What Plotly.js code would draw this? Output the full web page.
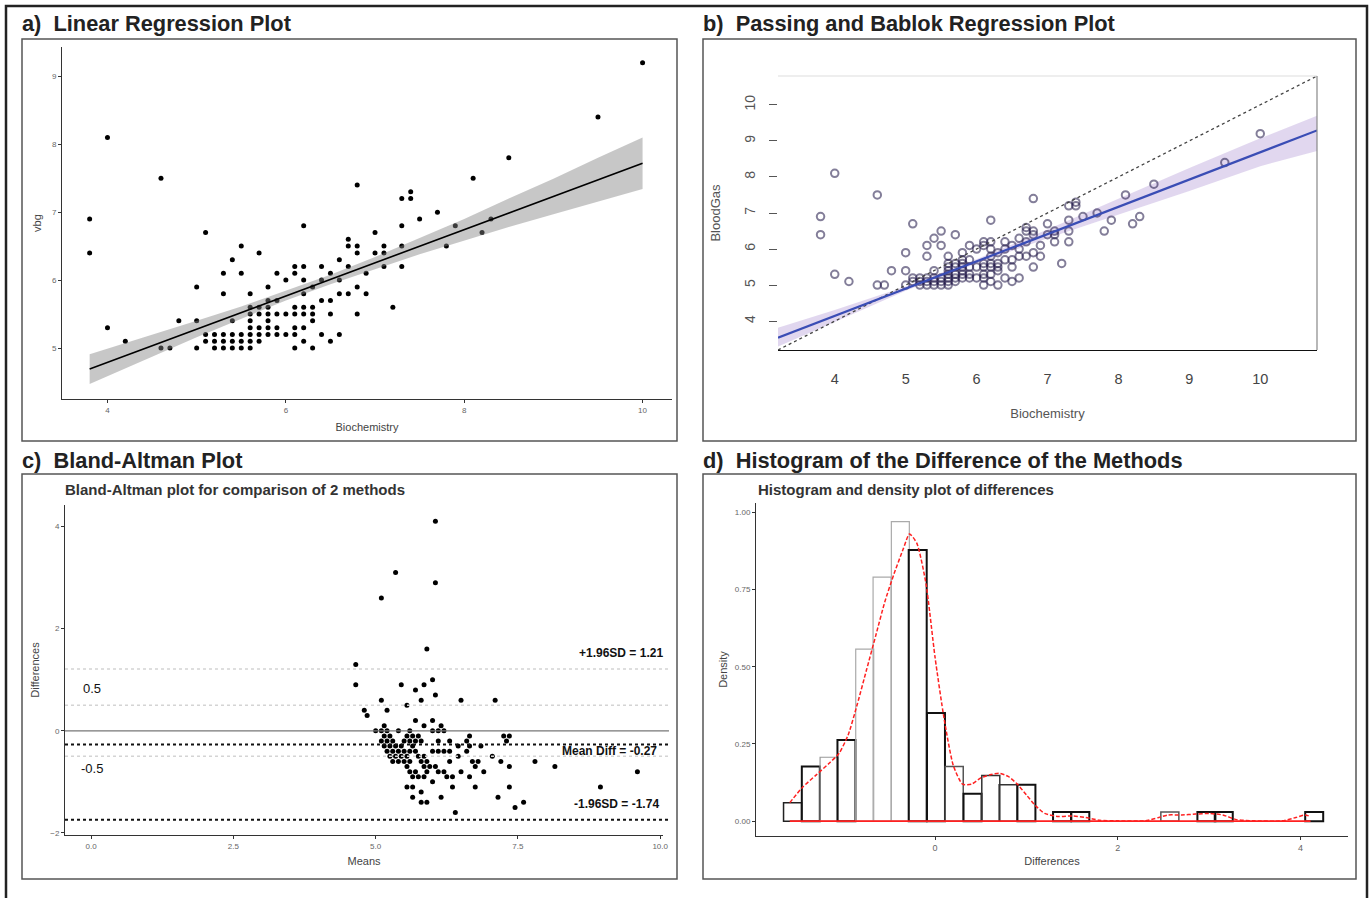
<!DOCTYPE html>
<html><head><meta charset="utf-8">
<script src="https://cdn.plot.ly/plotly-3.0.1.min.js"></script>
<style>html,body{margin:0;padding:0;background:#fff}#chart{width:1371px;height:898px}</style>
</head><body><div id="chart"></div>
<script>
// ---- paired measurements (Biochemistry vs blood gas) ----
const bioX = [10.0,9.5,4.0,8.5,4.6,8.1,6.8,7.3,7.4,7.4,3.8,7.7,7.5,7.9,8.3,6.2,7.3,5.1,8.2,7.0,3.8,5.5,5.7,6.7,6.7,6.8,6.8,7.0,7.1,7.1,7.3,7.8,5.4,6.6,7.1,7.3,5.3,5.5,5.9,6.1,6.1,6.2,6.4,6.5,6.7,6.9,6.0,6.2,6.4,6.6,5.0,5.8,6.3,6.8,5.3,5.6,6.2,6.6,6.7,6.9,6.4,6.5,5.8,5.9,7.2,5.6,5.7,5.8,6.1,6.2,6.3,4.8,5.0,5.4,5.6,5.8,6.3,5.6,5.7,5.8,5.9,6.0,6.1,6.2,6.3,6.5,6.8,4.0,5.6,5.7,5.8,5.9,6.1,6.2,4.2,5.1,5.2,5.3,5.4,5.5,5.6,5.7,5.8,5.9,6.0,6.1,6.4,6.6,5.1,5.2,5.3,5.4,5.5,5.6,5.7,6.2,6.5,4.6,4.7,5.0,5.2,5.3,5.4,5.5,5.6,6.1,6.3];
const bgY  = [9.2,8.4,8.1,7.8,7.5,7.5,7.4,7.2,7.3,7.2,6.9,7.0,6.9,6.8,6.9,6.8,6.8,6.7,6.7,6.7,6.4,6.5,6.4,6.6,6.5,6.5,6.4,6.4,6.5,6.4,6.5,6.5,6.3,6.3,6.2,6.2,6.1,6.1,6.1,6.2,6.1,6.2,6.2,6.1,6.2,6.1,6.0,6.0,6.0,6.0,5.9,5.9,5.9,5.9,5.8,5.8,5.8,5.8,5.8,5.8,5.7,5.7,5.7,5.7,5.6,5.6,5.6,5.6,5.6,5.6,5.6,5.4,5.4,5.4,5.4,5.4,5.4,5.5,5.5,5.5,5.5,5.5,5.5,5.5,5.5,5.5,5.5,5.3,5.3,5.3,5.3,5.3,5.3,5.3,5.1,5.2,5.2,5.2,5.2,5.2,5.2,5.2,5.2,5.2,5.2,5.2,5.2,5.2,5.1,5.1,5.1,5.1,5.1,5.1,5.1,5.1,5.1,5.0,5.0,5.0,5.0,5.0,5.0,5.0,5.0,5.0,5.0];

// ---- a) linear regression fit and confidence band ----
const lrX = [3.8, 10.0];
const lrY = [4.69, 7.72];
const lrBandX  = [3.8, 4.5, 5.0, 5.5, 6.0, 6.5, 7.0, 7.5, 8.0, 8.5, 9.0, 9.5, 10.0];
const lrBandLo = [4.47, 4.87, 5.16, 5.43, 5.70, 5.94, 6.16, 6.38, 6.58, 6.78, 6.97, 7.16, 7.34];
const lrBandHi = [4.91, 5.19, 5.40, 5.61, 5.84, 6.08, 6.34, 6.62, 6.90, 7.20, 7.49, 7.80, 8.10];

// ---- b) Passing-Bablok fit and confidence band ----
const pbX = [3.2, 10.8];
const pbY = [3.54, 9.29];
const pbBandX  = [3.2, 4, 5, 6, 7, 8, 9, 10, 10.8];
const pbBandLo = [3.30, 3.98, 4.84, 5.60, 6.30, 6.95, 7.61, 8.30, 8.72];
const pbBandHi = [3.82, 4.31, 4.96, 5.72, 6.54, 7.39, 8.25, 9.07, 9.70];
const identityX = [3.2, 10.8];

// ---- c) Bland-Altman reference lines ----
const baMeanDiff = -0.27;
const baUpper = 1.21;
const baLower = -1.74;
const baGuides = [0.5, -0.5];

// ---- d) histogram of differences (density) and density curve ----
const histMid = [-1.56,-1.36,-1.16,-0.97,-0.77,-0.58,-0.38,-0.19,0.01,0.21,0.41,0.61,0.80,1.00,1.39,1.59,2.57,2.97,3.16,4.15];
const histDensity = [0.06,0.177,0.207,0.263,0.557,0.79,0.97,0.878,0.35,0.177,0.089,0.148,0.118,0.118,0.03,0.03,0.03,0.03,0.03,0.03];
const densX = [-1.59,-1.45,-1.3,-1.15,-1.05,-0.95,-0.85,-0.75,-0.65,-0.55,-0.45,-0.35,-0.28,-0.2,-0.1,0,0.1,0.2,0.3,0.4,0.5,0.6,0.7,0.8,0.9,1.0,1.1,1.2,1.35,1.5,1.65,1.8,2.0,2.3,2.45,2.55,2.7,2.85,3.0,3.15,3.3,3.5,3.8,3.95,4.05,4.11];
const densY = [0.06,0.11,0.15,0.19,0.22,0.28,0.38,0.49,0.60,0.71,0.80,0.88,0.93,0.90,0.77,0.53,0.33,0.18,0.12,0.12,0.14,0.15,0.155,0.145,0.12,0.085,0.05,0.025,0.015,0.017,0.012,0.003,0.001,0.001,0.012,0.02,0.02,0.023,0.025,0.02,0.005,0.001,0.001,0.012,0.02,0.015];

// ---- tick labels ----
const aXTicks = [4, 6, 8, 10], aYTicks = [5, 6, 7, 8, 9];
const bTicks = [4, 5, 6, 7, 8, 9, 10];
const bYTickText = ['4', '5', '6', '7', '8', '9', '10'];
const cXTicks = [0, 2.5, 5, 7.5, 10], cXTickText = ['0.0', '2.5', '5.0', '7.5', '10.0'];
const cYTicks = [-2, 0, 2, 4];
const dXTicks = [0, 2, 4], dYTicks = [0, 0.25, 0.5, 0.75, 1.0];

// Bland-Altman points derived from the paired data
const baMeans = bioX.map((x, i) => (x + bgY[i]) / 2);
const baDiffs = bioX.map((x, i) => bgY[i] - x);

const W = 1371, H = 898;
const PX = p => p / W, PY = p => 1 - p / H;
const FONT = 'Liberation Sans, Arial, sans-serif';

const traces = [];
// a)
traces.push({type:'scatter', mode:'markers', x:bioX, y:bgY, xaxis:'x', yaxis:'y',
  marker:{color:'#000', size:5}, hoverinfo:'skip'});
traces.push({type:'scatter', mode:'lines', x:lrBandX.concat(lrBandX.slice().reverse()),
  y:lrBandHi.concat(lrBandLo.slice().reverse()), fill:'toself', fillcolor:'rgba(130,130,130,0.45)',
  line:{width:0}, xaxis:'x', yaxis:'y', hoverinfo:'skip'});
traces.push({type:'scatter', mode:'lines', x:lrX, y:lrY, line:{color:'#000', width:1.6}, xaxis:'x', yaxis:'y'});
// b)
traces.push({type:'scatter', mode:'lines', x:pbBandX.concat(pbBandX.slice().reverse()),
  y:pbBandHi.concat(pbBandLo.slice().reverse()), fill:'toself', fillcolor:'rgba(170,140,210,0.35)',
  line:{width:0}, xaxis:'x2', yaxis:'y2', hoverinfo:'skip'});
traces.push({type:'scatter', mode:'markers', x:bioX, y:bgY, xaxis:'x2', yaxis:'y2',
  marker:{symbol:'circle-open', size:7.5, color:'rgba(30,20,70,0.55)', line:{width:2}}});
traces.push({type:'scatter', mode:'lines', x:identityX, y:identityX, xaxis:'x2', yaxis:'y2',
  line:{color:'#444', width:1.3, dash:'dot'}});
traces.push({type:'scatter', mode:'lines', x:pbX, y:pbY, xaxis:'x2', yaxis:'y2',
  line:{color:'#3a4db5', width:2.2}});
// c)
traces.push({type:'scatter', mode:'markers', x:baMeans, y:baDiffs, xaxis:'x3', yaxis:'y3',
  marker:{color:'#000', size:5}});
// d)
traces.push({type:'bar', x:histMid, y:histDensity, width:0.197, xaxis:'x4', yaxis:'y4',
  marker:{color:'rgba(255,255,255,0)', line:{
    color:['#222','#111','#999','#111','#aaa','#aaa','#aaa','#111','#111','#555','#111','#333','#333','#111','#111','#111','#555','#111','#111','#111'],
    width:[1.5,2,1.2,2,1.2,1.2,1.2,2,2,1.5,2,1.5,1.5,2,2,2,1.5,2,2,2]}}});
traces.push({type:'scatter', mode:'lines', x:[densX[0], densX[densX.length-1]], y:[0, 0],
  xaxis:'x4', yaxis:'y4', line:{color:'#ff2020', width:1.8}});
traces.push({type:'scatter', mode:'lines', x:densX, y:densY, xaxis:'x4', yaxis:'y4',
  line:{color:'#ff2020', width:1.5, dash:'4px,2px', shape:'spline', smoothing:0.6}});

function ax(o) {
  return Object.assign({showgrid:false, zeroline:false, automargin:false, showline:true,
    linecolor:'#333', linewidth:1, ticks:'outside', ticklen:3, tickcolor:'#333',
    tickfont:{family:FONT, size:8, color:'#666'}}, o);
}

const layout = {
  width:W, height:H, margin:{l:0, r:0, t:0, b:0}, paper_bgcolor:'#fff', plot_bgcolor:'rgba(0,0,0,0)',
  showlegend:false, font:{family:FONT},
  xaxis: ax({domain:[PX(62), PX(672)], range:[3.49, 10.33], anchor:'y', tickvals:aXTicks,
    title:{text:'Biochemistry', font:{size:11, color:'#444'}, standoff:9}}),
  yaxis: ax({domain:[PY(399), PY(47)], range:[4.25, 9.43], anchor:'x', tickvals:aYTicks,
    title:{text:'vbg', font:{size:11, color:'#444'}, standoff:8}}),
  xaxis2: ax({domain:[PX(778), PX(1317)], range:[3.2, 10.8], anchor:'y2', tickvals:bTicks,
    ticks:'', linecolor:'#111', ticklabelstandoff:16, tickfont:{family:FONT, size:14.5, color:'#444'},
    title:{text:'Biochemistry', font:{size:13, color:'#555'}, standoff:22}}),
  yaxis2: ax({domain:[PY(350), PY(76)], range:[3.2, 10.8], anchor:'x2', tickvals:bTicks, ticktext:bYTickText,
    showline:false, ticklen:8, tickcolor:'#555', tickangle:-90, ticklabelstandoff:8,
    tickfont:{family:FONT, size:14, color:'#555'},
    title:{text:'BloodGas', font:{size:13, color:'#555'}, standoff:18}}),
  xaxis3: ax({domain:[PX(65), PX(663)], range:[-0.46, 10.05], anchor:'y3', tickvals:cXTicks, ticktext:cXTickText,
    title:{text:'Means', font:{size:11, color:'#444'}, standoff:7}}),
  yaxis3: ax({domain:[PY(835), PY(505)], range:[-2.04, 4.42], anchor:'x3', tickvals:cYTicks,
    title:{text:'Differences', font:{size:11, color:'#444'}, standoff:8}}),
  xaxis4: ax({domain:[PX(756), PX(1348)], range:[-1.96, 4.52], anchor:'y4', tickvals:dXTicks,
    tickfont:{family:FONT, size:9, color:'#666'},
    title:{text:'Differences', font:{size:11, color:'#444'}, standoff:5}}),
  yaxis4: ax({domain:[PY(836), PY(503)], range:[-0.048, 1.03], anchor:'x4', tickvals:dYTicks, tickformat:'.2f',
    title:{text:'Density', font:{size:11, color:'#444'}, standoff:4}}),
  shapes: [
    {type:'rect', xref:'paper', yref:'paper', x0:PX(6), x1:PX(1367), y0:PY(905), y1:PY(6), line:{color:'#222', width:2.5}},
    {type:'rect', xref:'paper', yref:'paper', x0:PX(22), x1:PX(677), y0:PY(441), y1:PY(39), line:{color:'#555', width:1.5}},
    {type:'rect', xref:'paper', yref:'paper', x0:PX(703), x1:PX(1356), y0:PY(441), y1:PY(39), line:{color:'#555', width:1.5}},
    {type:'rect', xref:'paper', yref:'paper', x0:PX(22), x1:PX(677), y0:PY(879), y1:PY(474), line:{color:'#555', width:1.5}},
    {type:'rect', xref:'paper', yref:'paper', x0:PX(703), x1:PX(1356), y0:PY(879), y1:PY(474), line:{color:'#555', width:1.5}},
    // b) plot box top and right
    {type:'line', xref:'x2 domain', yref:'y2 domain', x0:0, x1:1, y0:1, y1:1, line:{color:'#ddd', width:1.2}},
    {type:'line', xref:'x2 domain', yref:'y2 domain', x0:1, x1:1, y0:0, y1:1, line:{color:'#888', width:1.2}},
    // c) reference lines
    {type:'line', xref:'x3 domain', yref:'y3', x0:0, x1:1.01, y0:0, y1:0, line:{color:'#777', width:1.3}},
    {type:'line', xref:'x3 domain', yref:'y3', x0:0, x1:1.01, y0:baUpper, y1:baUpper, line:{color:'#d4d4d4', width:1.5, dash:'dot'}},
    {type:'line', xref:'x3 domain', yref:'y3', x0:0, x1:1.01, y0:baGuides[0], y1:baGuides[0], line:{color:'#d4d4d4', width:1.5, dash:'dot'}},
    {type:'line', xref:'x3 domain', yref:'y3', x0:0, x1:1.01, y0:baGuides[1], y1:baGuides[1], line:{color:'#d4d4d4', width:1.5, dash:'dot'}},
    {type:'line', xref:'x3 domain', yref:'y3', x0:0, x1:1.01, y0:baMeanDiff, y1:baMeanDiff, line:{color:'#111', width:2, dash:'dot'}},
    {type:'line', xref:'x3 domain', yref:'y3', x0:0, x1:1.01, y0:baLower, y1:baLower, line:{color:'#111', width:2, dash:'dot'}}
  ],
  annotations: [
    {xref:'paper', yref:'paper', x:PX(20), y:PY(24), xanchor:'left', yanchor:'middle', showarrow:false,
      text:'<b>a)  Linear Regression Plot</b>', font:{family:FONT, size:21.8, color:'#222'}},
    {xref:'paper', yref:'paper', x:PX(701), y:PY(24), xanchor:'left', yanchor:'middle', showarrow:false,
      text:'<b>b)  Passing and Bablok Regression Plot</b>', font:{family:FONT, size:21.8, color:'#222'}},
    {xref:'paper', yref:'paper', x:PX(20), y:PY(460), xanchor:'left', yanchor:'middle', showarrow:false,
      text:'<b>c)  Bland-Altman Plot</b>', font:{family:FONT, size:21.8, color:'#222'}},
    {xref:'paper', yref:'paper', x:PX(701), y:PY(460), xanchor:'left', yanchor:'middle', showarrow:false,
      text:'<b>d)  Histogram of the Difference of the Methods</b>', font:{family:FONT, size:21.8, color:'#222'}},
    {xref:'paper', yref:'paper', x:PX(63), y:PY(490), xanchor:'left', yanchor:'middle', showarrow:false,
      text:'<b>Bland-Altman plot for comparison of 2 methods</b>', font:{family:FONT, size:15, color:'#333'}},
    {xref:'paper', yref:'paper', x:PX(756), y:PY(490), xanchor:'left', yanchor:'middle', showarrow:false,
      text:'<b>Histogram and density plot of differences</b>', font:{family:FONT, size:15, color:'#333'}},
    {xref:'x3', yref:'y3', x:10.0, xshift:5, y:baUpper, yshift:16, xanchor:'right', yanchor:'middle', showarrow:false,
      text:'<b>+1.96SD = ' + baUpper.toFixed(2) + '</b>', font:{family:FONT, size:12, color:'#111'}},
    {xref:'x3', yref:'y3', x:9.98, y:baMeanDiff, yshift:-6, xanchor:'right', yanchor:'middle', showarrow:false,
      text:'<b>Mean Diff = ' + baMeanDiff.toFixed(2) + '</b>', font:{family:FONT, size:12, color:'#111'}},
    {xref:'x3', yref:'y3', x:10.0, xshift:1, y:baLower, yshift:16, xanchor:'right', yanchor:'middle', showarrow:false,
      text:'<b>-1.96SD = ' + baLower.toFixed(2) + '</b>', font:{family:FONT, size:12, color:'#111'}},
    {xref:'x3', yref:'y3', x:0.02, y:0.82, xanchor:'center', yanchor:'middle', showarrow:false,
      text:'0.5', font:{family:FONT, size:13, color:'#111'}},
    {xref:'x3', yref:'y3', x:0.02, y:-0.74, xanchor:'center', yanchor:'middle', showarrow:false,
      text:'-0.5', font:{family:FONT, size:13, color:'#111'}}
  ]
};

Plotly.newPlot('chart', traces, layout, {staticPlot:true, displayModeBar:false});
</script>
</body></html>
